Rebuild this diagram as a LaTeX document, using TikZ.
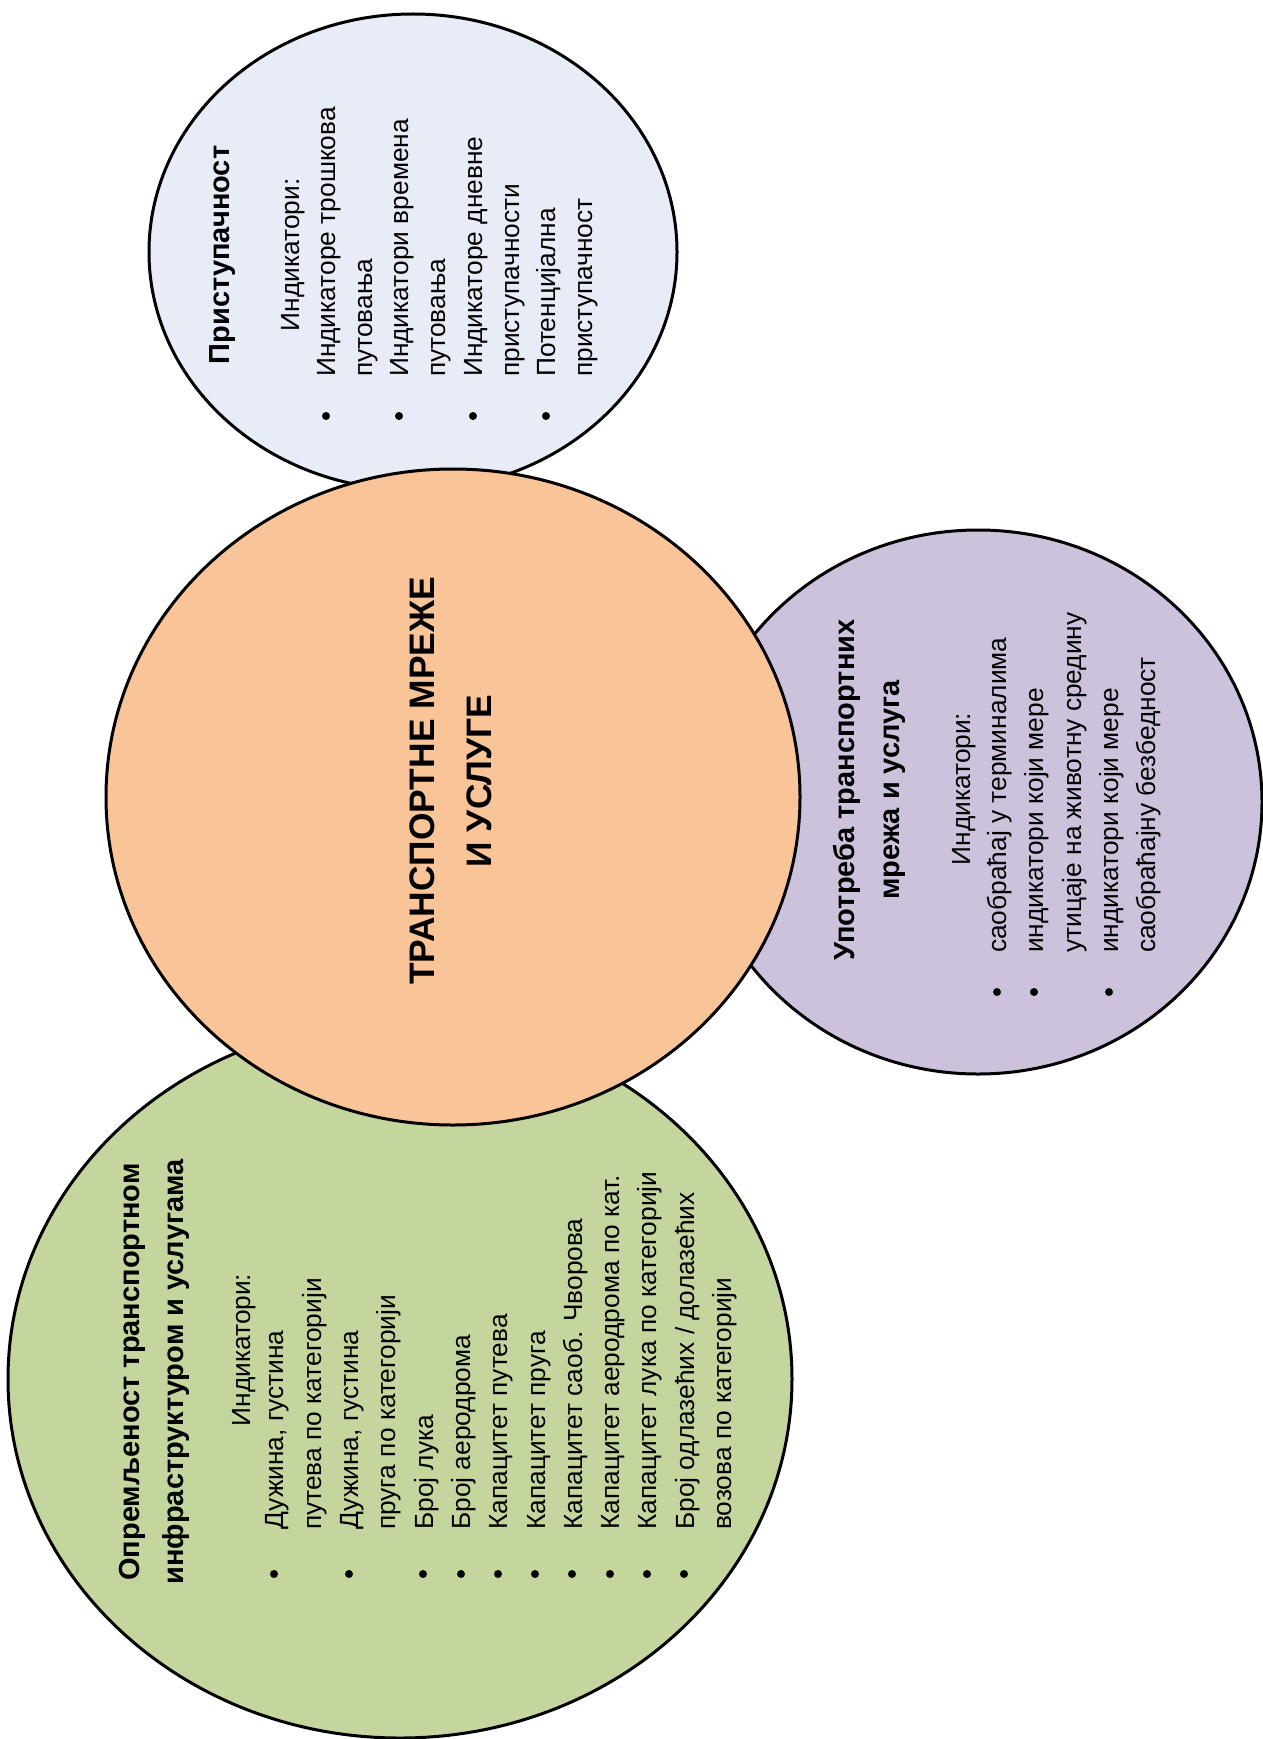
\documentclass[tikz,border=0pt]{standalone}
\usepackage{fontspec}
\setmainfont{Liberation Sans}
\usepackage{tikz}
\usetikzlibrary{shapes.geometric}

\definecolor{accfill}{RGB}{232,236,246}
\definecolor{corefill}{RGB}{249,196,152}
\definecolor{usefill}{RGB}{204,194,220}
\definecolor{equipfill}{RGB}{196,214,158}

\tikzset{
	blob/.style={ellipse, draw=black, line width=3pt, inner sep=0pt},
	head/.style={rotate=90, anchor=base, inner sep=0pt, font=\fontsize{29}{35}\selectfont\bfseries},
	entry/.style={rotate=90, anchor=base west, inner sep=0pt, font=\fontsize{26.3}{32}\selectfont},
	bulletdot/.style={circle, fill=black, inner sep=0pt, minimum size=8pt}
}

\begin{document}
\begin{tikzpicture}[x=1pt, y=-1pt]
	\useasboundingbox [fill=white] (0,0) rectangle (1262,1739);

	% circles
	\node (acc) [blob, fill=accfill, minimum width=528pt, minimum height=476pt] at (413,252) {};
	\node (use) [blob, fill=usefill, minimum width=568pt, minimum height=544pt] at (978,802) {};
	\node (equip) [blob, fill=equipfill, minimum width=784pt, minimum height=718pt] at (400,1379) {};
	\node (core) [blob, fill=corefill, minimum width=694pt, minimum height=656pt] at (453,797) {};

	% centre
	\node (CoreA) [head, font=\fontsize{35.4}{40}\selectfont\bfseries] at (434,781) {ТРАНСПОРТНЕ МРЕЖЕ};
	\node (CoreB) [head, font=\fontsize{35.4}{40}\selectfont\bfseries] at (491,781) {И УСЛУГЕ};

	% Pristupacnost

	\node (AccName) [head] at (229,255) {Приступачност};
	\node (AccInd) [entry, anchor=base] at (299,255) {Индикатори:};

	\node (AccA) [entry] at (335,377) {Индикаторе трошкова};
	\node (AccB) [entry] at (372,377) {путовања};
	\node (AccC) [entry] at (408,377) {Индикатори времена};
	\node (AccD) [entry] at (445,377) {путовања};
	\node (AccE) [entry] at (482,377) {Индикаторе дневне};
	\node (AccF) [entry] at (519,377) {приступачности};
	\node (AccG) [entry] at (555,377) {Потенцијална};
	\node (AccH) [entry] at (592,377) {приступачност};

	\node (AccDotA) [bulletdot] at (326,416) {};
	\node (AccDotB) [bulletdot] at (399,416) {};
	\node (AccDotC) [bulletdot] at (473,416) {};
	\node (AccDotD) [bulletdot] at (546,416) {};

	% Upotreba

	\node (UseNameA) [head] at (854,790) {Употреба транспортних};
	\node (UseNameB) [head] at (899,790) {мрежа и услуга};
	\node (UseInd) [entry, anchor=base] at (970,789) {Индикатори:};

	\node (UseA) [entry] at (1006,953) {саобраћај у терминалима};
	\node (UseB) [entry] at (1043,953) {индикатори који мере};
	\node (UseC) [entry] at (1081,953) {утицаје на животну средину};
	\node (UseD) [entry] at (1118,953) {индикатори који мере};
	\node (UseE) [entry] at (1155,953) {саобраћајну безбедност};

	\node (UseDotA) [bulletdot] at (997,992) {};
	\node (UseDotB) [bulletdot] at (1034,992) {};
	\node (UseDotC) [bulletdot] at (1109,992) {};

	% Opremljenost

	\node (EquipNameA) [head] at (139,1372) {Опремљеност транспортном};
	\node (EquipNameB) [head] at (183,1372) {инфраструктуром и услугама};
	\node (EquipInd) [entry, anchor=base] at (250,1350) {Индикатори:};

	\node (EquipA) [entry] at (283,1530) {Дужина, густина};
	\node (EquipB) [entry] at (321,1530) {путева по категорији};
	\node (EquipC) [entry] at (358,1530) {Дужина, густина};
	\node (EquipD) [entry] at (395,1530) {пруга по категорији};
	\node (EquipE) [entry] at (433,1530) {Број лука};
	\node (EquipF) [entry] at (470,1530) {Број аеродрома};
	\node (EquipG) [entry] at (507,1530) {Капацитет путева};
	\node (EquipH) [entry] at (545,1530) {Капацитет пруга};
	\node (EquipI) [entry] at (582,1530) {Капацитет саоб. Чворова};
	\node (EquipJ) [entry] at (619,1530) {Капацитет аеродрома по кат.};
	\node (EquipK) [entry] at (656,1530) {Капацитет лука по категорији};
	\node (EquipL) [entry] at (694,1530) {Број одлазећих / долазећих};
	\node (EquipM) [entry] at (731,1530) {возова по категорији};

	\node (EquipDotA) [bulletdot] at (274,1574) {};
	\node (EquipDotB) [bulletdot] at (349,1574) {};
	\node (EquipDotC) [bulletdot] at (423,1574) {};
	\node (EquipDotD) [bulletdot] at (461,1574) {};
	\node (EquipDotE) [bulletdot] at (498,1574) {};
	\node (EquipDotF) [bulletdot] at (535,1574) {};
	\node (EquipDotG) [bulletdot] at (572,1574) {};
	\node (EquipDotH) [bulletdot] at (610,1574) {};
	\node (EquipDotI) [bulletdot] at (647,1574) {};
	\node (EquipDotJ) [bulletdot] at (684,1574) {};
\end{tikzpicture}
\end{document}
